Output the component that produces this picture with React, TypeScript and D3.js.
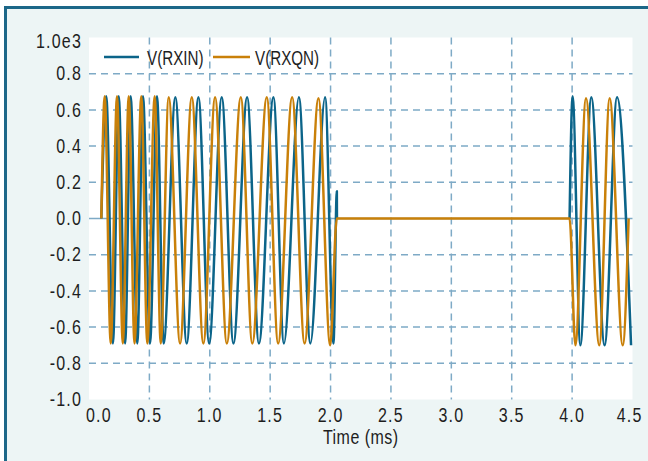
import React from 'react'
import * as d3 from 'd3'

// readings from the plot: turning points of each trace (time in ms, value)
const rxinTime = [0.102, 0.143, 0.198, 0.246, 0.299, 0.345, 0.400, 0.447, 0.505, 0.563, 0.618, 0.715, 0.809, 0.906, 0.995, 1.099, 1.196, 1.309, 1.407, 1.527, 1.614, 1.738, 1.833, 1.955, 2.024, 2.052, 2.053, 3.0, 3.979, 4.004, 4.068, 4.159, 4.269, 4.372, 4.488]
const rxinVolt = [0, 0.675, -0.69, 0.675, -0.69, 0.675, -0.69, 0.675, -0.69, 0.675, -0.69, 0.67, -0.69, 0.67, -0.69, 0.67, -0.69, 0.67, -0.69, 0.67, -0.69, 0.67, -0.69, 0.67, -0.69, 0.15, 0, NaN, 0, 0.675, -0.70, 0.67, -0.70, 0.67, -0.70]

const rxqnTime = [0.102, 0.130, 0.180, 0.232, 0.280, 0.329, 0.377, 0.433, 0.483, 0.544, 0.594, 0.660, 0.754, 0.851, 0.947, 1.044, 1.141, 1.257, 1.352, 1.472, 1.566, 1.682, 1.785, 1.900, 1.997, 2.052, 3.979, 4.027, 4.115, 4.225, 4.311, 4.419, 4.468]
const rxqnVolt = [0, 0.675, -0.69, 0.675, -0.69, 0.675, -0.69, 0.675, -0.69, 0.675, -0.69, 0.67, -0.69, 0.67, -0.69, 0.67, -0.69, 0.67, -0.69, 0.67, -0.69, 0.67, -0.69, 0.665, -0.70, 0, 0, -0.70, 0.665, -0.70, 0.665, -0.70, 0]

const xTicks = [0, 0.5, 1, 1.5, 2, 2.5, 3, 3.5, 4, 4.5]
const yTicks = [-1, -0.8, -0.6, -0.4, -0.2, 0, 0.2, 0.4, 0.6, 0.8, 1]
const yTopLabel = '1.0e3'

const seriesNames = ['V(RXIN)', 'V(RXQN)']
const seriesColors = ['#0b6489', '#c98009']

const WIDTH = 648
const HEIGHT = 461
const plot = { left: 89, right: 632.5, top: 37.5, bottom: 399.5 }
const FONT = "'Liberation Sans', Arial, sans-serif"
const GRID = '#7eaac6'
const INK = '#1e1e1e'

type Pt = { t: number, v: number }
const zip = (ts: number[], vs: number[]): Pt[] => ts.map((t, i) => ({ t, v: vs[i] }))

// narrow type: regular sans squeezed horizontally
const Narrow = ({ x, y, anchor = 'start', sx = 0.8, ls = 0, baseline, children }: any) => (
    <text transform={`translate(${x},${y}) scale(${sx},1)`} textAnchor={anchor}
        letterSpacing={ls} dominantBaseline={baseline}>
        {children}
    </text>
)

const App = () => {
    const x = d3.scaleLinear().domain([0, 4.5]).range([plot.left, plot.right])
    const y = d3.scaleLinear().domain([-1, 1]).range([plot.bottom, plot.top])

    const line = d3.line<Pt>()
        .defined(d => !isNaN(d.v))
        .x(d => x(d.t))
        .y(d => y(d.v))
        .curve(d3.curveMonotoneX)

    const series = [zip(rxinTime, rxinVolt), zip(rxqnTime, rxqnVolt)]

    return (
        <svg width={WIDTH} height={HEIGHT} style={{ position: 'absolute', left: 0, top: 0 }}>
            <rect x={0} y={0} width={WIDTH} height={HEIGHT} fill='#ffffff' />
            <rect x={4} y={6} width={WIDTH - 4} height={HEIGHT - 6} fill='#edf5f5' />
            {/* frame, top and left only */}
            <rect x={4} y={6} width={WIDTH - 4} height={3} fill='#1c6788' />
            <rect x={4} y={6} width={3} height={HEIGHT - 6} fill='#1c6788' />

            <rect x={plot.left} y={plot.top} width={plot.right - plot.left} height={plot.bottom - plot.top} fill='#ffffff' />

            {/* grid */}
            <g stroke={GRID} strokeWidth={1.5}>
                {yTicks.filter(v => v > -1 && v < 1).map(v => (
                    <line key={v} x1={plot.left} x2={plot.right} y1={y(v)} y2={y(v)}
                        strokeDasharray={v === 0 ? undefined : '7,5'} />
                ))}
                {xTicks.filter(t => t > 0 && t < 4.5).map(t => (
                    <line key={t} x1={x(t)} x2={x(t)} y1={plot.top} y2={plot.bottom} strokeDasharray='7,5' />
                ))}
            </g>

            {/* traces */}
            <g fill='none' strokeWidth={2.5} strokeLinejoin='round'>
                {series.map((d, i) => (
                    <path key={i} d={line(d) || ''} stroke={seriesColors[i]} />
                ))}
            </g>

            {/* legend */}
            <g fontFamily={FONT} fontSize={20} fill={INK}>
                <line x1={104} x2={139} y1={57} y2={57} stroke={seriesColors[0]} strokeWidth={2.5} />
                <Narrow x={147} y={64.5} sx={0.76}>{seriesNames[0]}</Narrow>
                <line x1={213} x2={250} y1={57} y2={57} stroke={seriesColors[1]} strokeWidth={2.5} />
                <Narrow x={255} y={64.5} sx={0.76}>{seriesNames[1]}</Narrow>
            </g>

            {/* y axis labels */}
            <g fontFamily={FONT} fontSize={20} fill={INK}>
                {yTicks.map(v => (
                    <Narrow key={v} x={82} y={v === 1 ? y(v) + 3.5 : y(v)} anchor='end' ls={1.5} baseline='central'>
                        {v === 1 ? yTopLabel : v.toFixed(1)}
                    </Narrow>
                ))}
            </g>

            {/* x axis labels */}
            <g fontFamily={FONT} fontSize={20} fill={INK}>
                {xTicks.map((t, i) => {
                    const first = i === 0
                    const last = i === xTicks.length - 1
                    const anchor = first ? 'start' : last ? 'end' : 'middle'
                    const px = first ? x(t) - 3 : last ? x(t) + 10 : x(t)
                    return (
                        <Narrow key={t} x={px} y={421.5} anchor={anchor} ls={1.5}>{t.toFixed(1)}</Narrow>
                    )
                })}
                <Narrow x={(plot.left + plot.right) / 2} y={444} anchor='middle' ls={0.6}>Time (ms)</Narrow>
            </g>
        </svg>
    )
}

export default App
